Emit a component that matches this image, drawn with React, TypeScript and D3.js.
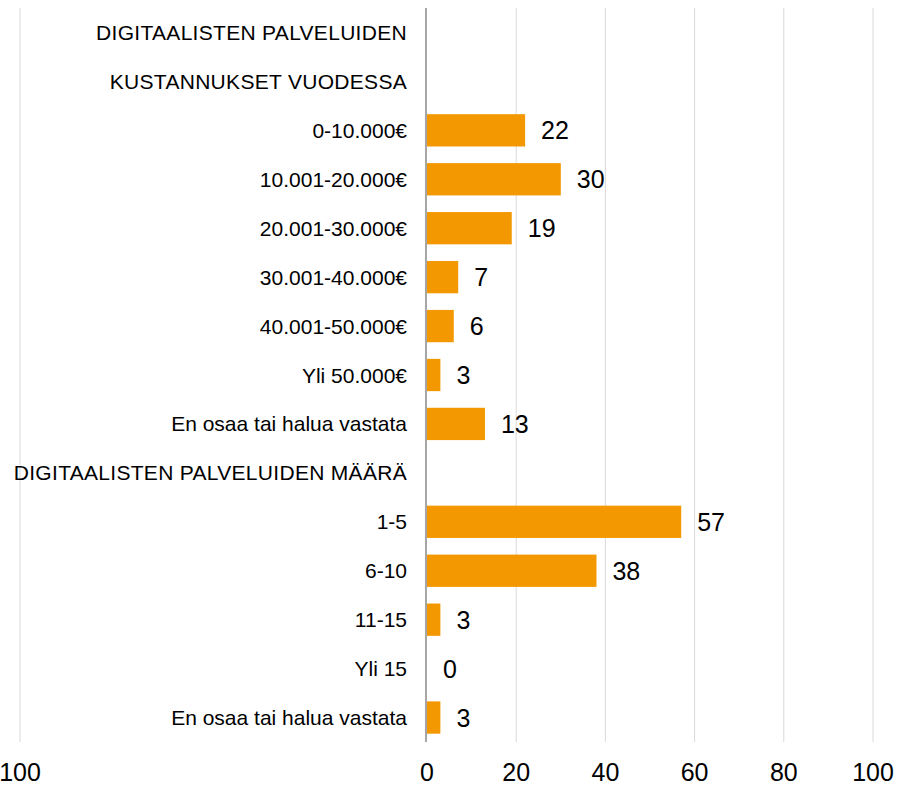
import React from "react";
import * as d3 from "d3";

const categories: string[] = [
  "DIGITAALISTEN PALVELUIDEN",
  "KUSTANNUKSET VUODESSA",
  "0-10.000€",
  "10.001-20.000€",
  "20.001-30.000€",
  "30.001-40.000€",
  "40.001-50.000€",
  "Yli 50.000€",
  "En osaa tai halua vastata",
  "DIGITAALISTEN PALVELUIDEN MÄÄRÄ",
  "1-5",
  "6-10",
  "11-15",
  "Yli 15",
  "En osaa tai halua vastata ",
];

// null = heading row without a bar
const values: (number | null)[] = [null, null, 22, 30, 19, 7, 6, 3, 13, null, 57, 38, 3, 0, 3];

const rightTicks: number[] = [0, 20, 40, 60, 80, 100];
const leftTicks: number[] = [100];

const W = 900;
const H = 785;
const plotTop = 8;
const plotBottom = 742;
const zeroX = 427;
const rightX = 873;
const leftX = 20;

const FONT = "'Liberation Sans', Arial, sans-serif";
const BAR = "#f39800";

export default function App() {
  const x = d3.scaleLinear().domain([0, 100]).range([zeroX, rightX]);
  const xLeft = d3.scaleLinear().domain([100, 0]).range([leftX, zeroX]);
  const y = d3
    .scaleBand<string>()
    .domain(categories)
    .range([plotTop, plotBottom])
    .paddingInner(0.34)
    .paddingOuter(0.17);

  const isHeading = (c: string) => c === c.toUpperCase() && /[A-Z]/.test(c);

  return (
    <svg
      width={W}
      height={H}
      style={{ position: "absolute", left: 0, top: 0, display: "block", background: "#fff" }}
      fontFamily={FONT}
    >
      {/* gridlines */}
      {leftTicks.map((t) => (
        <line key={"lg" + t} x1={xLeft(t)} x2={xLeft(t)} y1={plotTop} y2={plotBottom} stroke="#d9d9d9" strokeWidth={1} />
      ))}
      {rightTicks
        .filter((t) => t !== 0)
        .map((t) => (
          <line key={"g" + t} x1={x(t)} x2={x(t)} y1={plotTop} y2={plotBottom} stroke="#d9d9d9" strokeWidth={1} />
        ))}

      {/* bars */}
      {categories.map((c, i) => {
        const v = values[i];
        if (v === null) return null;
        return (
          <rect
            key={"b" + i}
            x={x(0)}
            y={y(c)!}
            width={Math.max(0, x(v) - x(0))}
            height={y.bandwidth()}
            fill={BAR}
          />
        );
      })}

      {/* zero axis */}
      <line x1={x(0) - 1} x2={x(0) - 1} y1={plotTop} y2={plotBottom} stroke="#a6a6a6" strokeWidth={2} />

      {/* category labels */}
      {categories.map((c, i) => (
        <text
          key={"c" + i}
          x={x(0) - 20}
          y={y(c)! + y.bandwidth() / 2}
          textAnchor="end"
          dominantBaseline="central"
          fontSize={21}
          letterSpacing={isHeading(c) ? 0.3 : 0}
          fill="#000"
        >
          {c.trim()}
        </text>
      ))}

      {/* value labels */}
      {categories.map((c, i) => {
        const v = values[i];
        if (v === null) return null;
        return (
          <text
            key={"v" + i}
            x={x(v) + 16}
            y={y(c)! + y.bandwidth() / 2}
            dominantBaseline="central"
            fontSize={25}
            fill="#000"
          >
            {v}
          </text>
        );
      })}

      {/* tick labels */}
      {leftTicks.map((t) => (
        <text key={"lt" + t} x={xLeft(t)} y={781} textAnchor="middle" fontSize={25} fill="#000">
          {t}
        </text>
      ))}
      {rightTicks.map((t) => (
        <text key={"t" + t} x={x(t)} y={781} textAnchor="middle" fontSize={25} fill="#000">
          {t}
        </text>
      ))}
    </svg>
  );
}
